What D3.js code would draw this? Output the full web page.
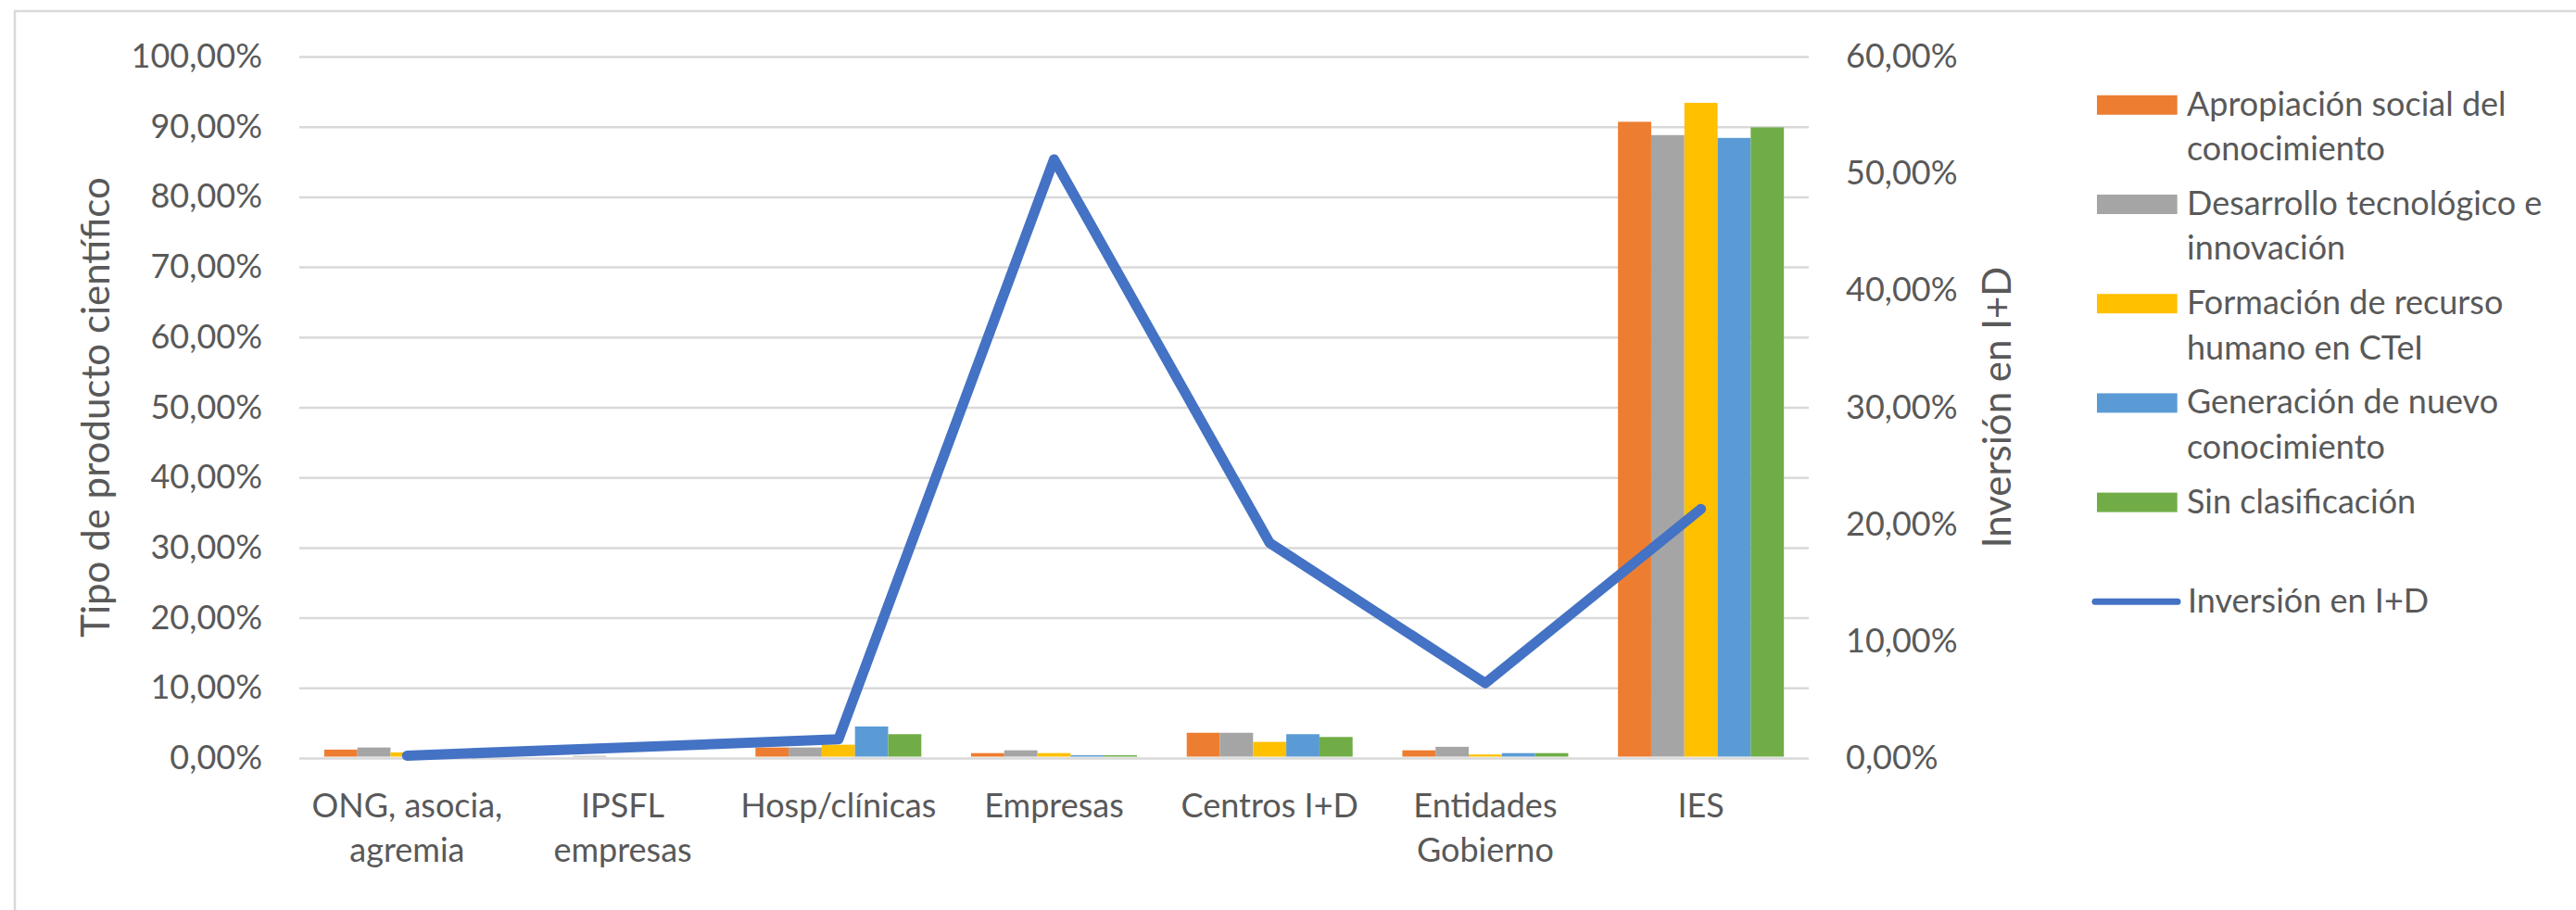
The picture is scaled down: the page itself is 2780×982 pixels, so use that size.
<!DOCTYPE html>
<html>
<head>
<meta charset="utf-8">
<script src="https://cdn.jsdelivr.net/npm/d3@7"></script>
<style>
  html, body { margin: 0; padding: 0; background: #ffffff; }
  svg { display: block; }
  text { font-family: Lato, "Open Sans", "Noto Sans", sans-serif; fill: #595959; }
</style>
</head>
<body>
<svg id="chart" width="2780" height="982"></svg>
<script>
// Categories (x axis), one entry per group; "\n" marks a line break in the label
const categories = [
  "ONG, asocia,\nagremia",
  "IPSFL\nempresas",
  "Hosp/clínicas",
  "Empresas",
  "Centros I+D",
  "Entidades\nGobierno",
  "IES"
];

// Bar series: share of each type of scientific product (%)
const seriesNames = [
  "Apropiación social del conocimiento",
  "Desarrollo tecnológico e innovación",
  "Formación de recurso humano en CTeI",
  "Generación de nuevo conocimiento",
  "Sin clasificación"
];
const legendLines = [
  ["Apropiación social del", "conocimiento"],
  ["Desarrollo tecnológico e", "innovación"],
  ["Formación de recurso", "humano en CTeI"],
  ["Generación de nuevo", "conocimiento"],
  ["Sin clasificación"]
];
const apropiacion = [1.2, 0.1, 1.5, 0.7, 3.6, 1.1, 90.7];
const desarrollo  = [1.5, 0.3, 1.5, 1.1, 3.6, 1.6, 88.8];
const formacion   = [0.8, 0.1, 1.9, 0.7, 2.3, 0.5, 93.4];
const generacion  = [0.3, 0.1, 4.5, 0.4, 3.4, 0.7, 88.4];
const sinClasif   = [0.3, 0.1, 3.4, 0.4, 3.0, 0.7, 89.9];
const seriesValues = [apropiacion, desarrollo, formacion, generacion, sinClasif];
const seriesColors = ["#ED7D31", "#A5A5A5", "#FFC000", "#5B9BD5", "#70AD47"];

// Line series on the secondary axis: R&D investment (%)
const lineName = "Inversión en I+D";
const inversion = [0.2, 0.9, 1.6, 51.2, 18.4, 6.4, 21.3];
const lineColor = "#4472C4";

// Axis ticks
const leftTicks = [0, 10, 20, 30, 40, 50, 60, 70, 80, 90, 100];
const rightTicks = [0, 10, 20, 30, 40, 50, 60];
const leftTitle = "Tipo de producto científico";
const rightTitle = "Inversión en I+D";

// ---- layout ----
const plot = { left: 323, right: 1952, top: 61, bottom: 818 };
const gridColor = "#d9d9d9";
const fontSize = 36;
const titleSize = 42;

const locale = d3.formatLocale({ decimal: ",", thousands: ".", grouping: [3], currency: ["", "€"] });
const pct = locale.format(".2%");

const svg = d3.select("#chart");

// chart frame (only the top and left edges fall inside the page)
svg.append("path")
  .attr("d", "M16,1000 L16,12 L2800,12")
  .attr("fill", "none")
  .attr("stroke", gridColor)
  .attr("stroke-width", 2.5);

const x = d3.scaleBand().domain(categories).range([plot.left, plot.right]).paddingInner(0).paddingOuter(0);
const xInner = d3.scaleBand().domain(seriesNames).range([0, x.bandwidth()]).paddingInner(0).paddingOuter(0.75);
const yL = d3.scaleLinear().domain([0, 100]).range([plot.bottom, plot.top]);
const yR = d3.scaleLinear().domain([0, 60]).range([plot.bottom, plot.top]);

// gridlines
const grid = svg.append("g")
  .attr("transform", `translate(${plot.left},0)`)
  .call(d3.axisLeft(yL).tickValues(leftTicks).tickSize(-(plot.right - plot.left)).tickFormat(""));
grid.select(".domain").remove();
grid.selectAll("line").attr("stroke", gridColor).attr("stroke-width", 2.5);

// left axis labels
const axL = svg.append("g")
  .attr("transform", `translate(${plot.left},0)`)
  .call(d3.axisLeft(yL).tickValues(leftTicks).tickSize(0).tickPadding(40).tickFormat(d => pct(d / 100)));
axL.select(".domain").remove();
axL.selectAll("text").style("font-size", fontSize + "px").style("font-family", null).attr("fill", "#595959");

// right axis labels
const axR = svg.append("g")
  .attr("transform", `translate(${plot.right},0)`)
  .call(d3.axisRight(yR).tickValues(rightTicks).tickSize(0).tickPadding(40).tickFormat(d => pct(d / 100)));
axR.select(".domain").remove();
axR.selectAll("text").style("font-size", fontSize + "px").style("font-family", null).attr("fill", "#595959");

// x axis labels
const axX = svg.append("g");
categories.forEach(c => {
  const t = axX.append("text")
    .attr("text-anchor", "middle")
    .style("font-size", fontSize + "px");
  c.split("\n").forEach((line, i) => {
    t.append("tspan")
      .attr("x", x(c) + x.bandwidth() / 2)
      .attr("y", 882 + i * 47.5)
      .text(line);
  });
});

// axis titles
svg.append("text")
  .attr("transform", `translate(118,${(plot.top + plot.bottom) / 2}) rotate(-90)`)
  .attr("text-anchor", "middle")
  .style("font-size", titleSize + "px")
  .text(leftTitle);
svg.append("text")
  .attr("transform", `translate(2170,${(plot.top + plot.bottom) / 2}) rotate(-90)`)
  .attr("text-anchor", "middle")
  .style("font-size", titleSize + "px")
  .text(rightTitle);

// bars
const bars = svg.append("g");
seriesNames.forEach((name, si) => {
  bars.append("g")
    .attr("fill", seriesColors[si])
    .selectAll("rect")
    .data(categories.map((c, ci) => ({ c, v: seriesValues[si][ci] })))
    .join("rect")
    .attr("x", d => x(d.c) + xInner(name))
    .attr("width", xInner.bandwidth())
    .attr("y", d => yL(d.v))
    .attr("height", d => plot.bottom - 1.5 - yL(d.v));
});

// line series (secondary axis)
const line = d3.line()
  .x((d, i) => x(categories[i]) + x.bandwidth() / 2)
  .y(d => yR(d));
svg.append("path")
  .datum(inversion)
  .attr("d", line)
  .attr("fill", "none")
  .attr("stroke", lineColor)
  .attr("stroke-width", 11)
  .attr("stroke-linejoin", "round")
  .attr("stroke-linecap", "round");

// legend
const legend = svg.append("g");
const legX = 2263, legTextX = 2360, legY0 = 113.3, legStep = 107.2, lineGap = 48.3;
seriesNames.forEach((name, i) => {
  const cy = legY0 + i * legStep;
  legend.append("rect")
    .attr("x", legX).attr("y", cy - 10.5)
    .attr("width", 86.7).attr("height", 21)
    .attr("fill", seriesColors[i]);
  const t = legend.append("text").style("font-size", fontSize + "px");
  legendLines[i].forEach((ln, k) => {
    t.append("tspan").attr("x", legTextX).attr("y", cy + 11.5 + k * lineGap).text(ln);
  });
});
{
  const cy = legY0 + seriesNames.length * legStep;
  legend.append("line")
    .attr("x1", 2261).attr("x2", 2350)
    .attr("y1", cy).attr("y2", cy)
    .attr("stroke", lineColor).attr("stroke-width", 7)
    .attr("stroke-linecap", "round");
  legend.append("text")
    .style("font-size", fontSize + "px")
    .attr("x", 2361).attr("y", cy + 11.5)
    .text(lineName);
}
</script>
</body>
</html>
